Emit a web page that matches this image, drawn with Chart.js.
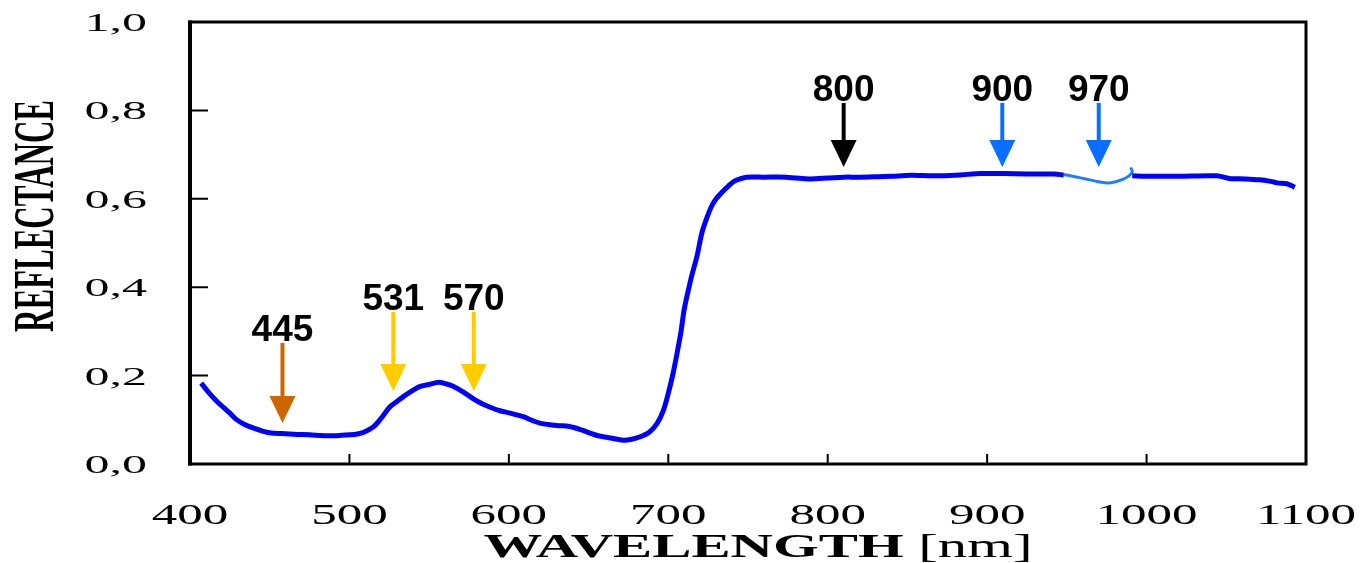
<!DOCTYPE html>
<html>
<head>
<meta charset="utf-8">
<script src="https://cdn.jsdelivr.net/npm/chart.js@4.4.1/dist/chart.umd.min.js"></script>
<style>
    html, body { margin: 0; padding: 0; background: #ffffff; }
</style>
</head>
<body>
<canvas id="myChartReflectancia" width="1363" height="563"></canvas>
<script>

// espectro principal (null = trecho substituido pela banda de agua)
var comprimentoOnda = [407, 411, 416, 421, 425, 429, 434, 440, 446, 451, 458, 467, 475, 484, 492, 500, 505, 509, 515, 520,
    525, 530, 534, 539, 544, 550, 556, 561, 565, 571, 578, 583, 588, 594, 601, 609, 615, 620, 630, 638,
    645, 651, 656, 662, 668, 672, 677, 682, 688, 693, 697, 700, 703, 706, 708, 710, 713, 715, 718, 721,
    724, 727, 730, 734, 738, 741, 745, 749, 760, 774, 780, 789, 800, 810, 820, 831, 840, 852, 865, 871,
    883, 896, 910, 925, 942, 948, 970, 991, 1000, 1020, 1044, 1052, 1062, 1071, 1077, 1082, 1088, 1093];
var reflectancia = [0.183, 0.165, 0.145, 0.128, 0.115, 0.101, 0.090, 0.081, 0.074, 0.070, 0.069, 0.067, 0.066, 0.064, 0.064, 0.066, 0.068, 0.072, 0.084, 0.104,
    0.128, 0.142, 0.153, 0.165, 0.175, 0.180, 0.185, 0.181, 0.176, 0.164, 0.147, 0.137, 0.129, 0.121, 0.115, 0.107, 0.098, 0.092, 0.087, 0.085,
    0.078, 0.070, 0.064, 0.060, 0.056, 0.054, 0.056, 0.061, 0.072, 0.092, 0.122, 0.160, 0.205, 0.260, 0.300, 0.350, 0.400, 0.430, 0.470, 0.522,
    0.555, 0.582, 0.600, 0.616, 0.630, 0.639, 0.645, 0.649, 0.649, 0.649, 0.647, 0.645, 0.647, 0.649, 0.649, 0.650, 0.651, 0.653, 0.652, 0.652,
    0.654, 0.657, 0.657, 0.656, 0.656, 0.654, null, 0.652, 0.651, 0.651, 0.652, 0.646, 0.645, 0.643, 0.640, 0.636, 0.634, 0.626];

// trecho claro em torno de 970 nm
var comprimentoAgua = [948, 955, 962, 968, 975, 980, 985, 989, 991, 990];
var reflectanciaAgua = [0.655, 0.650, 0.645, 0.640, 0.636, 0.638, 0.644, 0.652, 0.661, 0.671];

// setas
var setasTexto = ['445', '531', '570', '800', '900', '970'];
var setasX = [458, 527.5, 578, 810, 909.5, 970];
var setasTopo = [0.274, 0.344, 0.344, 0.817, 0.817, 0.817];
var setasPonta = [0.093, 0.165, 0.165, 0.672, 0.672, 0.672];
var setasCor = ['#CC6600', '#FFCC00', '#FFCC00', '#000000', '#0B6EFF', '#0B6EFF'];

var ticksX = [400, 500, 600, 700, 800, 900, 1000, 1100];
var ticksY = [0, 0.2, 0.4, 0.6, 0.8, 1.0];
var ticksYTexto = ['0,0', '0,2', '0,4', '0,6', '0,8', '1,0'];


function textoEsticado(ctx, texto, x, y, escala, align) {
    ctx.save();
    ctx.translate(x, y);
    ctx.scale(escala, 1);
    ctx.textAlign = align;
    ctx.fillText(texto, 0, 0);
    ctx.restore();
}

const moldura = {
    id: 'moldura',
    afterDatasetsDraw(chart) {
        const ctx = chart.ctx;
        const a = chart.chartArea;
        const sx = chart.scales.x;
        const sy = chart.scales.y;

        ctx.save();
        ctx.strokeStyle = '#000';
        ctx.lineWidth = 3;
        ctx.strokeRect(a.left, a.top, a.right - a.left, a.bottom - a.top);
        ctx.lineWidth = 4;
        ctx.beginPath();
        ctx.moveTo(a.left, a.top - 1.5);
        ctx.lineTo(a.left, a.bottom + 1.5);
        ctx.stroke();

        // ticks para dentro
        ctx.lineWidth = 2;
        ctx.beginPath();
        ticksX.forEach(function (v) {
            if (v == sx.min || v == sx.max) return;
            const px = sx.getPixelForValue(v);
            ctx.moveTo(px, a.bottom);
            ctx.lineTo(px, a.bottom - 10);
        });
        ticksY.forEach(function (v) {
            if (v == sy.min || v == sy.max) return;
            const py = sy.getPixelForValue(v);
            ctx.moveTo(a.left, py);
            ctx.lineTo(a.left + 18, py);
        });
        ctx.stroke();

        // rotulos dos ticks
        ctx.fillStyle = '#000';
        ctx.textBaseline = 'alphabetic';
        ctx.font = '30px "Liberation Serif"';
        ticksX.forEach(function (v) {
            textoEsticado(ctx, String(v), sx.getPixelForValue(v), 524, 1.7, 'center');
        });
        ctx.font = '25px "Liberation Serif"';
        ticksY.forEach(function (v, i) {
            textoEsticado(ctx, ticksYTexto[i], 147, sy.getPixelForValue(v) + 9, 2.0, 'right');
        });

        // titulo eixo x
        const esc = 1.78;
        ctx.font = 'bold 33px "Liberation Serif"';
        const w1 = ctx.measureText('WAVELENGTH').width;
        ctx.font = '33px "Liberation Serif"';
        const w2 = ctx.measureText(' [nm]').width;
        let x0 = 758 - (w1 + w2) * esc / 2;
        ctx.font = 'bold 33px "Liberation Serif"';
        textoEsticado(ctx, 'WAVELENGTH', x0, 557, esc, 'left');
        ctx.font = '33px "Liberation Serif"';
        textoEsticado(ctx, ' [nm]', x0 + w1 * esc, 557, esc, 'left');

        // titulo eixo y
        ctx.save();
        ctx.translate(53, 216);
        ctx.rotate(-Math.PI / 2);
        ctx.font = 'bold 56px "Liberation Serif"';
        const wy = ctx.measureText('REFLECTANCE').width;
        ctx.scale(232 / wy, 1);
        ctx.textAlign = 'center';
        ctx.fillText('REFLECTANCE', 0, 0);
        ctx.restore();

        // setas
        setasTexto.forEach(function (t, i) {
            const px = sx.getPixelForValue(setasX[i]);
            const yTopo = sy.getPixelForValue(setasTopo[i]);
            const yPonta = sy.getPixelForValue(setasPonta[i]);
            ctx.strokeStyle = setasCor[i];
            ctx.fillStyle = setasCor[i];
            ctx.lineWidth = 4;
            ctx.beginPath();
            ctx.moveTo(px, yTopo);
            ctx.lineTo(px, yPonta - 24);
            ctx.stroke();
            ctx.beginPath();
            ctx.moveTo(px - 13, yPonta - 27);
            ctx.lineTo(px + 13, yPonta - 27);
            ctx.lineTo(px, yPonta);
            ctx.closePath();
            ctx.fill();

            ctx.fillStyle = '#000';
            ctx.font = 'bold 37px "Liberation Sans"';
            ctx.textAlign = 'center';
            ctx.fillText(t, px, yTopo - 2);
        });
        ctx.restore();
    }
};

const ctxReflectancia = document.getElementById('myChartReflectancia');

var myChartReflectancia = new Chart(ctxReflectancia, {
    type: 'line',
    data: {
        datasets: [{
            label: 'Reflectance',
            data: comprimentoOnda.map(function (x, i) { return { x: x, y: reflectancia[i] }; }),
            borderColor: '#0000FF',
            backgroundColor: 'transparent',
            borderWidth: 5,
            pointRadius: 0,
            tension: 0.3,
            spanGaps: false
        }, {
            label: 'Agua',
            data: comprimentoAgua.map(function (x, i) { return { x: x, y: reflectanciaAgua[i] }; }),
            borderColor: '#1F7EFF',
            backgroundColor: 'transparent',
            borderWidth: 3,
            pointRadius: 0,
            tension: 0.3
        }]
    },
    options: {
        responsive: false,
        animation: false,
        devicePixelRatio: 1,
        layout: {
            padding: { left: 190, right: 57, top: 22, bottom: 99 }
        },
        scales: {
            x: { type: 'linear', min: 400, max: 1100, display: false },
            y: { min: 0, max: 1, display: false }
        },
        plugins: {
            legend: { display: false },
            tooltip: { enabled: false }
        }
    },
    plugins: [moldura]
});

</script>
</body>
</html>
